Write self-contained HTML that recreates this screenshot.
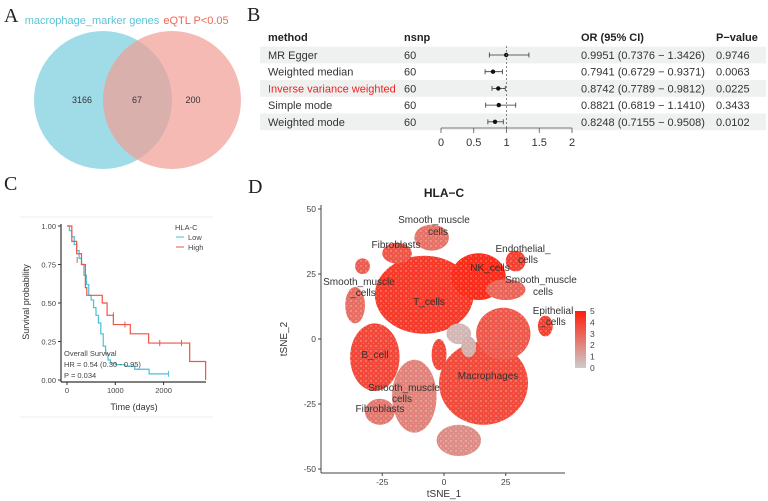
<!DOCTYPE html>
<html><head><meta charset="utf-8"><style>
html,body{margin:0;padding:0;background:#fff;}
svg{display:block;font-family:"Liberation Sans",Arial,sans-serif;}
</style></head><body>
<svg id="fig" width="768" height="501" viewBox="0 0 768 501">
<g font-family="Liberation Serif,serif" font-size="20" fill="#222">
<text x="4" y="22">A</text>
<text x="247" y="21">B</text>
<text x="4" y="190">C</text>
<text x="248" y="193">D</text>
</g>
<g id="venn">
<circle cx="103" cy="100" r="69" fill="rgb(160,220,232)"/>
<circle cx="172" cy="100" r="69" fill="rgb(240,160,150)" fill-opacity="0.72"/>
<text x="92" y="24" font-size="11" fill="#5cc4d8" text-anchor="middle">macrophage_marker genes</text>
<text x="196" y="24" font-size="11" fill="#ee6655" text-anchor="middle">eQTL P&lt;0.05</text>
<text x="82" y="103" font-size="9" fill="#333" text-anchor="middle">3166</text>
<text x="137" y="103" font-size="9" fill="#333" text-anchor="middle">67</text>
<text x="193" y="103" font-size="9" fill="#333" text-anchor="middle">200</text>
</g>
<g id="forest"></g>
<g id="km"></g>
<g id="tsne"></g>
</svg>
<script>
const NS="http://www.w3.org/2000/svg";
function mk(p,t,a,txt){const e=document.createElementNS(NS,t);for(const k in a)e.setAttribute(k,a[k]);if(txt!==undefined)e.textContent=txt;p.appendChild(e);return e;}

// ---------- Forest plot data ----------
const methods=["MR Egger","Weighted median","Inverse variance weighted","Simple mode","Weighted mode"];
const nsnp=[60,60,60,60,60];
const orVals=[0.9951,0.7941,0.8742,0.8821,0.8248];
const ciLow=[0.7376,0.6729,0.7789,0.6819,0.7155];
const ciHigh=[1.3426,0.9371,0.9812,1.1410,0.9508];
const pVals=["0.9746","0.0063","0.0225","0.3433","0.0102"];
const forestTicks=[0,0.5,1,1.5,2];

const F=document.getElementById('forest');
const fx=v=>441+v*65.5;
const rowY=i=>55+i*16.7;
mk(F,'text',{x:268,y:41,'font-size':11,'font-weight':'bold',fill:'#222'},'method');
mk(F,'text',{x:404,y:41,'font-size':11,'font-weight':'bold',fill:'#222'},'nsnp');
mk(F,'text',{x:581,y:41,'font-size':11,'font-weight':'bold',fill:'#222'},'OR (95% CI)');
mk(F,'text',{x:716,y:41,'font-size':11,'font-weight':'bold',fill:'#222'},'P−value');
methods.forEach((m,i)=>{
  const y=rowY(i);
  if(i%2===0){const r=mk(F,'rect',{x:260,y:y-8.3,width:506,height:16.7,fill:'#eef1ef'});
    }
  const g=mk(F,'g',{});
  
  
  mk(g,'text',{x:268,y:y+4,'font-size':11,fill:i===2?'#ee2222':'#333'},m);
  mk(g,'text',{x:404,y:y+4,'font-size':11,fill:'#333'},String(nsnp[i]));
  mk(g,'text',{x:581,y:y+4,'font-size':11,fill:'#333'},orVals[i].toFixed(4)+' ('+ciLow[i].toFixed(4)+' − '+ciHigh[i].toFixed(4)+')');
  mk(g,'text',{x:716,y:y+4,'font-size':11,fill:'#333'},pVals[i]);
  const ci=mk(g,'line',{x1:fx(ciLow[i]),x2:fx(ciHigh[i]),y1:y,y2:y,stroke:'#333','stroke-width':0.8});
  
  
  mk(g,'line',{x1:fx(ciLow[i]),x2:fx(ciLow[i]),y1:y-2.5,y2:y+2.5,stroke:'#333','stroke-width':0.8});
  mk(g,'line',{x1:fx(ciHigh[i]),x2:fx(ciHigh[i]),y1:y-2.5,y2:y+2.5,stroke:'#333','stroke-width':0.8});
  const pt=mk(g,'circle',{cx:fx(orVals[i]),cy:y,r:2.2,fill:'#111'});
  
  
});
mk(F,'line',{x1:fx(1),x2:fx(1),y1:46,y2:128,stroke:'#666','stroke-dasharray':'2,2','stroke-width':0.8});
mk(F,'line',{x1:fx(0),x2:fx(2),y1:128,y2:128,stroke:'#555','stroke-width':0.8});
forestTicks.forEach(t=>{mk(F,'line',{x1:fx(t),x2:fx(t),y1:128,y2:133,stroke:'#555','stroke-width':0.8});
  const l=mk(F,'text',{x:fx(t),y:146,'font-size':11,fill:'#333','text-anchor':'middle'},String(t));
  });

// ---------- KM data ----------
const lowT=[0,50,100,150,200,250,300,350,400,450,500,550,600,650,700,750,800,850,900,1000,1200,1400,1700,2100];
const lowS=[1,0.97,0.93,0.88,0.84,0.79,0.75,0.68,0.62,0.55,0.52,0.47,0.42,0.37,0.30,0.22,0.17,0.13,0.11,0.10,0.09,0.07,0.04,0.04];
const highT=[0,100,200,300,380,410,730,830,960,1310,1690,2540,2870,2870];
const highS=[1,0.90,0.82,0.75,0.60,0.55,0.50,0.42,0.36,0.30,0.24,0.12,0.12,0.0];
const highCensT=[210,960,1200,1920,2370];
const highCensS=[0.78,0.42,0.36,0.24,0.24];
const lowCensT=[2100];
const lowCensS=[0.04];
const kmYTicks=[0,0.25,0.5,0.75,1];
const kmXTicks=[0,1000,2000];

const K=document.getElementById('km');
const kx=t=>67+t*0.0483;
const ky=s=>380-s*154;
mk(K,'line',{x1:20,x2:213,y1:217,y2:217,stroke:'#eee'});
mk(K,'line',{x1:20,x2:213,y1:417,y2:417,stroke:'#eee'});
mk(K,'line',{x1:61,x2:61,y1:224,y2:382,stroke:'#333','stroke-width':1.2});
mk(K,'line',{x1:61,x2:206,y1:382,y2:382,stroke:'#333','stroke-width':1.2});
kmYTicks.forEach(v=>{mk(K,'line',{x1:58,x2:61,y1:ky(v),y2:ky(v),stroke:'#333'});
  mk(K,'text',{x:56,y:ky(v)+3,'font-size':7.5,fill:'#444','text-anchor':'end'},v.toFixed(2));});
kmXTicks.forEach(v=>{mk(K,'line',{x1:kx(v),x2:kx(v),y1:382,y2:385,stroke:'#333'});
  mk(K,'text',{x:kx(v),y:393,'font-size':7.5,fill:'#444','text-anchor':'middle'},String(v));});
mk(K,'text',{x:134,y:410,'font-size':9,fill:'#333','text-anchor':'middle'},'Time (days)');
mk(K,'text',{x:29,y:302,'font-size':9,fill:'#333','text-anchor':'middle',transform:'rotate(-90 29 302)'},'Survival probability');
function stepPath(T,S){let d='M'+kx(T[0])+','+ky(S[0]);for(let i=1;i<T.length;i++){d+='H'+kx(T[i])+'V'+ky(S[i]);}return d;}
const lp=mk(K,'path',{d:stepPath(lowT,lowS),fill:'none',stroke:'#4bbfdc','stroke-width':1.2});

const hp=mk(K,'path',{d:stepPath(highT,highS),fill:'none',stroke:'#ee5544','stroke-width':1.2});

highCensT.forEach((t,i)=>{const c=mk(K,'line',{x1:kx(t),x2:kx(t),y1:ky(highCensS[i])-3,y2:ky(highCensS[i])+3,stroke:'#ee5544'});
  });
lowCensT.forEach((t,i)=>{const c=mk(K,'line',{x1:kx(t),x2:kx(t),y1:ky(lowCensS[i])-3,y2:ky(lowCensS[i])+3,stroke:'#4bbfdc'});
  });
mk(K,'text',{x:175,y:230,'font-size':7.5,fill:'#444'},'HLA-C');
mk(K,'line',{x1:176,x2:184,y1:237,y2:237,stroke:'#4bbfdc'});
mk(K,'text',{x:188,y:240,'font-size':7.5,fill:'#444'},'Low');
mk(K,'line',{x1:176,x2:184,y1:247,y2:247,stroke:'#ee5544'});
mk(K,'text',{x:188,y:250,'font-size':7.5,fill:'#444'},'High');
mk(K,'text',{x:64,y:356,'font-size':7.5,fill:'#444'},'Overall Survival');
mk(K,'text',{x:64,y:367,'font-size':7.5,fill:'#444'},'HR = 0.54 (0.30 - 0.95)');
mk(K,'text',{x:64,y:378,'font-size':7.5,fill:'#444'},'P = 0.034');

// ---------- tSNE data ----------
const clusterX=[-8,14,-28,16,24,-12,6,-26,-36,-19,-5,29,25,41,6,-2,-33,10];
const clusterY=[17,24,-7,-17,2,-22,-39,-28,13,33,39,30,19,5,2,-6,28,-3];
const clusterRX=[20,11,10,18,11,9,9,6,4,6,7,4,8,3,5,3,3,3];
const clusterRY=[15,9,13,16,10,14,6,5,7,4,5,4,4,4,4,6,3,4];
const clusterExpr=[4.2,4.6,3.8,3.7,3.3,2.1,1.8,2.4,2.7,3.4,2.6,4.0,3.0,4.0,0.6,3.8,3.2,0.8];
const tsneXTicks=[-25,0,25];
const tsneYTicks=[-50,-25,0,25,50];
const legendTicks=[0,1,2,3,4,5];

const D=document.getElementById('tsne');
const tx=v=>444+v*2.47;
const ty=v=>339-v*2.6;
function col(v){const a=Math.max(0,Math.min(1,v/5));return 'rgb('+Math.round(204+(255-204)*a)+','+Math.round(204+(30-204)*a)+','+Math.round(204+(10-204)*a)+')';}
mk(D,'text',{x:444,y:197,'font-size':12,'font-weight':'bold',fill:'#222','text-anchor':'middle'},'HLA−C');
const defs=mk(D,'defs',{});
const pat=mk(defs,'pattern',{id:'spk',width:5,height:5,patternUnits:'userSpaceOnUse'});
mk(pat,'circle',{cx:1,cy:1,r:0.7,fill:'#fff','fill-opacity':0.55});
mk(pat,'circle',{cx:3.5,cy:3.2,r:0.5,fill:'#fff','fill-opacity':0.4});
clusterX.forEach((cx,i)=>{
  const e=mk(D,'ellipse',{cx:tx(cx),cy:ty(clusterY[i]),rx:clusterRX[i]*2.47,ry:clusterRY[i]*2.6,fill:col(clusterExpr[i])});
  
  
  mk(D,'ellipse',{cx:tx(cx),cy:ty(clusterY[i]),rx:clusterRX[i]*2.47,ry:clusterRY[i]*2.6,fill:'url(#spk)'});
});
mk(D,'line',{x1:321,x2:321,y1:205,y2:473,stroke:'#444'});
mk(D,'line',{x1:321,x2:565,y1:473,y2:473,stroke:'#444'});
tsneYTicks.forEach(v=>{mk(D,'line',{x1:318,x2:321,y1:ty(v),y2:ty(v),stroke:'#444'});
  mk(D,'text',{x:316,y:ty(v)+3,'font-size':8.5,fill:'#444','text-anchor':'end'},String(v));});
tsneXTicks.forEach(v=>{mk(D,'line',{x1:tx(v),x2:tx(v),y1:473,y2:476,stroke:'#444'});
  mk(D,'text',{x:tx(v),y:485,'font-size':8.5,fill:'#444','text-anchor':'middle'},String(v));});
mk(D,'text',{x:444,y:497,'font-size':10,fill:'#333','text-anchor':'middle'},'tSNE_1');
mk(D,'text',{x:287,y:339,'font-size':10,fill:'#333','text-anchor':'middle',transform:'rotate(-90 287 339)'},'tSNE_2');
const labels=[["Smooth_muscle",434,223],["cells",438,235],["Fibroblasts",396,248],["Endothelial_",523,252],["cells",528,263],["NK_cells",490,271],["Smooth_muscle",359,285],["_cells",363,296],["T_cells",429,305],["Smooth_muscle",541,283],["cells",543,295],["Epithelial",553,314],["_cells",553,325],["B_cell",375,358],["Macrophages",488,379],["Smooth_muscle",404,391],["cells",402,402],["Fibroblasts",380,412]];
labels.forEach(l=>{const t=mk(D,'text',{x:l[1],y:l[2],'font-size':10,fill:'#333','text-anchor':'middle'},l[0]);
  });
const lg=mk(defs,'linearGradient',{id:'cg',x1:0,y1:1,x2:0,y2:0});
mk(lg,'stop',{offset:0,'stop-color':col(0)});mk(lg,'stop',{offset:1,'stop-color':col(5)});
const lb=mk(D,'rect',{x:575,y:311,width:11,height:57,fill:'url(#cg)'});

legendTicks.forEach(v=>{const y=368-v*11.4;mk(D,'text',{x:590,y:y+3,'font-size':8.5,fill:'#444'},String(v));});
</script>
</body></html>
